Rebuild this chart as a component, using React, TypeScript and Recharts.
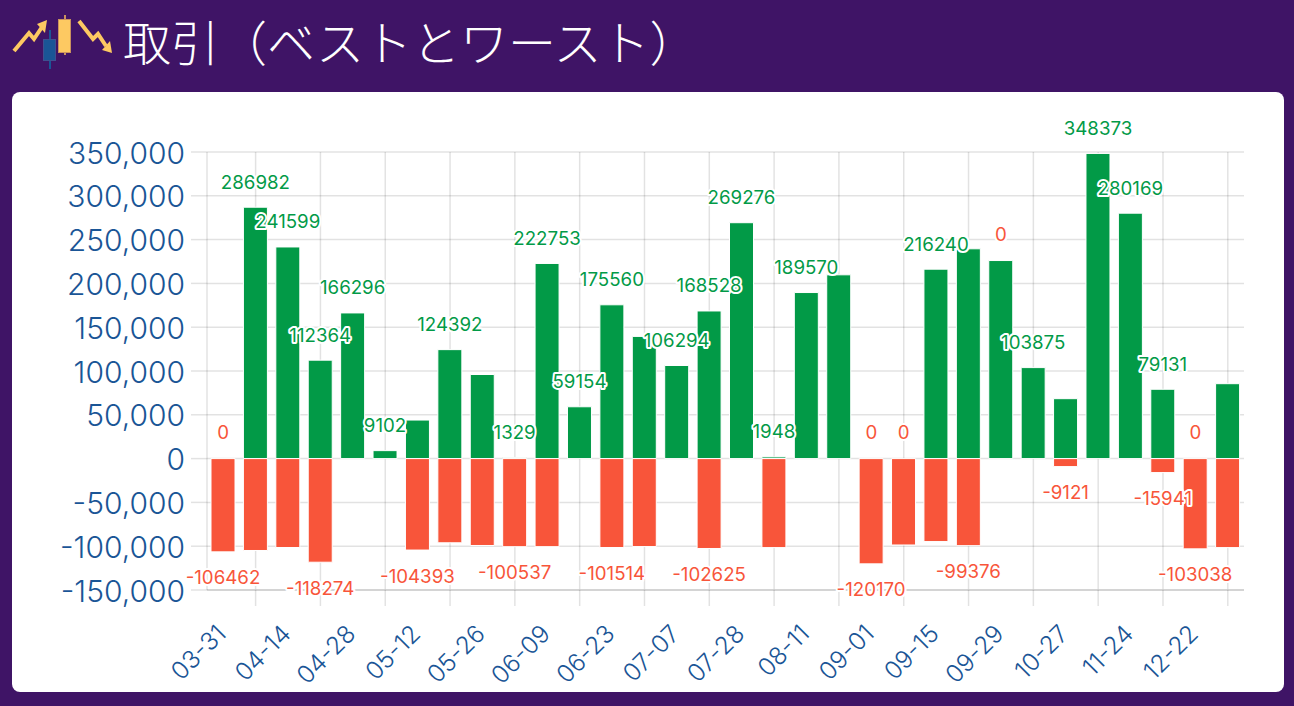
import { ComposedChart, Bar, Line, XAxis, YAxis, CartesianGrid, LabelList } from 'recharts';

const fechas = [
    '03-31', '04-07', '04-14', '04-21', '04-28', '05-05', '05-12', '05-19',
    '05-26', '06-02', '06-09', '06-16', '06-23', '06-30', '07-07', '07-21',
    '07-28', '08-04', '08-11', '08-18', '09-01', '09-08', '09-15', '09-22',
    '09-29', '10-13', '10-27', '11-10', '11-24', '12-08', '12-22', '12-29',
];
const mejores = [
    0, 286982, 241599, 112364, 166296, 9102, 44000, 124392,
    96000, 1329, 222753, 59154, 175560, 139500, 106294, 168528,
    269276, 1948, 189570, 209800, 0, 0, 216240, 239500,
    226100, 103875, 68400, 348373, 280169, 79131, 0, 85500,
];
const peores = [
    -106462, -104900, -101500, -118274, null, null, -104393, -96100,
    -99200, -100537, -100500, null, -101514, -100400, null, -102625,
    null, -101600, null, null, -120170, -98600, -94700, -99376,
    null, null, -9121, null, null, -15941, -103038, -101600,
];
// categorías con un "0" rojo sobre la pila positiva
const conCero = ['03-31', '09-01', '09-08', '09-29', '12-22'];
const etiquetasMejor = [
    286982, 241599, 112364, 166296, 9102, 124392, 1329, 222753, 59154, 175560,
    106294, 168528, 269276, 1948, 189570, 216240, 103875, 348373, 280169, 79131,
];
const etiquetasPeor = [-106462, -118274, -104393, -100537, -101514, -102625, -120170, -99376, -9121, -15941, -103038];
const ticksY = [-150000, -100000, -50000, 0, 50000, 100000, 150000, 200000, 250000, 300000, 350000];

const VERDE = '#029a47';
const ROJO = '#f8553a';
const AZUL = '#1a5596';
const AMARILLO = '#fdc962';
const FONDO = '#3f1466';
const LINEA = 'rgba(0,0,0,0.115)';
const FUENTE = 'Inter, "Noto Sans", sans-serif';
const FUENTE_JP = '"Noto Sans CJK JP", sans-serif';

const data = fechas.map((fecha, i) => ({
    fecha,
    mejor: mejores[i],
    peor: peores[i],
    cero: conCero.includes(fecha) ? mejores[i] : null,
}));
const ticksLinea = fechas.filter((_, i) => i % 2 === 1);

function Texto({ x, y, color, valor }: { x: number; y: number; color: string; valor: number }) {
    return (
        <text
            x={x}
            y={y}
            textAnchor="middle"
            dominantBaseline="central"
            fontFamily={FUENTE}
            fontSize={18.7}
            fill={color}
            stroke="#fff"
            strokeWidth={4}
            strokeLinejoin="round"
            paintOrder="stroke"
        >
            {valor}
        </text>
    );
}

function EtiquetaMejor(p: any) {
    if (!etiquetasMejor.includes(p.value)) return null;
    return <Texto x={p.x + p.width / 2} y={Math.min(p.y, p.y + p.height) - 25} color={VERDE} valor={p.value} />;
}

function EtiquetaPeor(p: any) {
    if (!etiquetasPeor.includes(p.value)) return null;
    return <Texto x={p.x + p.width / 2} y={Math.max(p.y, p.y + p.height) + 26} color={ROJO} valor={p.value} />;
}

function EtiquetaCero(p: any) {
    if (p.value === null || p.value === undefined) return null;
    return <Texto x={p.x} y={p.y - 26} color={ROJO} valor={0} />;
}

function Icono() {
    return (
        <svg width={120} height={80} style={{ position: 'absolute', left: 0, top: 0 }} fill="none">
            <path d="M14 51 L29 33 L34 39 L42 27" stroke={AMARILLO} strokeWidth={4} />
            <path d="M47 20 L37 24 L45 33 Z" fill={AMARILLO} />
            <path d="M50 30 V69" stroke={AZUL} strokeWidth={2} />
            <rect x={43.5} y={39.5} width={12} height={21} fill={AZUL} stroke="#3f4f8f" />
            <path d="M65 15 V55" stroke="#c9925f" strokeWidth={2} />
            <rect x={58.5} y={19.5} width={12} height={33} fill={AMARILLO} stroke="#c9925f" />
            <path d="M79 21 L93 39 L98 34 L106 46" stroke={AMARILLO} strokeWidth={4} />
            <path d="M112 53 L102 50 L110 41 Z" fill={AMARILLO} />
        </svg>
    );
}

export default function App() {
    return (
        <div style={{ position: 'absolute', left: 0, top: 0, width: 1294, height: 706, background: FONDO, overflow: 'hidden' }}>
            <Icono />
            <div style={{ position: 'absolute', left: 123, top: 7, fontFamily: FUENTE_JP, fontWeight: 300, fontSize: 48, lineHeight: '66px', color: '#fff', whiteSpace: 'nowrap' }}>
                取引（ベストとワースト）
            </div>
            <div style={{ position: 'absolute', left: 12, top: 92, width: 1272, height: 600, background: '#fff', borderRadius: 8 }} />
            <div style={{ position: 'absolute', left: 0, top: 0 }}>
                <ComposedChart
                    width={1294}
                    height={706}
                    data={data}
                    stackOffset="sign"
                    margin={{ top: 152, right: 50, bottom: 20, left: 12 }}
                >
                    <CartesianGrid xAxisId="linea" stroke={LINEA} strokeWidth={1.5} syncWithTicks />
                    <XAxis
                        xAxisId="linea"
                        dataKey="fecha"
                        ticks={ticksLinea}
                        interval={0}
                        tickFormatter={() => ''}
                        height={16}
                        tickSize={16}
                        tickLine={{ stroke: LINEA, strokeWidth: 1.5 }}
                        axisLine={{ stroke: '#ccc', strokeWidth: 1.5 }}
                    />
                    <XAxis
                        xAxisId="texto"
                        dataKey="fecha"
                        interval={1}
                        height={80}
                        angle={-45}
                        textAnchor="end"
                        tickLine={false}
                        axisLine={false}
                        tick={{ fontSize: 24.5, fill: AZUL, fontFamily: FUENTE, fontWeight: 300, dx: -8 }}
                        tickMargin={11}
                    />
                    <YAxis
                        width={195}
                        domain={[-150000, 350000]}
                        ticks={ticksY}
                        interval={0}
                        tickSize={16}
                        tickMargin={6}
                        tickFormatter={(v: number) => v.toLocaleString('en-US')}
                        tick={{ fontSize: 30, fill: AZUL, fontFamily: FUENTE, fontWeight: 300, dy: 1 }}
                        tickLine={{ stroke: LINEA, strokeWidth: 1.5 }}
                        axisLine={{ stroke: LINEA, strokeWidth: 1.5 }}
                    />
                    <Bar xAxisId="linea" dataKey="mejor" stackId="a" barSize={24} fill={VERDE} stroke="#fff" strokeWidth={1} isAnimationActive={false}>
                        <LabelList dataKey="mejor" content={EtiquetaMejor} />
                    </Bar>
                    <Bar xAxisId="linea" dataKey="peor" stackId="a" barSize={24} fill={ROJO} stroke="#fff" strokeWidth={1} isAnimationActive={false}>
                        <LabelList dataKey="peor" content={EtiquetaPeor} />
                    </Bar>
                    <Line xAxisId="linea" dataKey="cero" stroke="none" dot={false} legendType="none" isAnimationActive={false} label={EtiquetaCero} />
                </ComposedChart>
            </div>
        </div>
    );
}
